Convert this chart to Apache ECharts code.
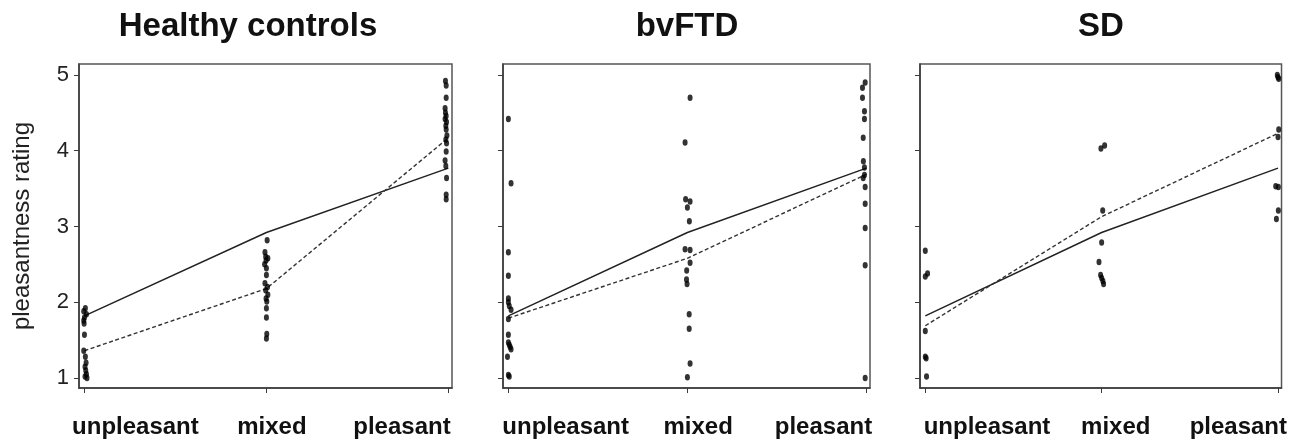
<!DOCTYPE html>
<html>
<head>
<meta charset="utf-8">
<script src="https://cdn.jsdelivr.net/npm/echarts@6/dist/echarts.min.js"></script>
<style>
  html, body { margin: 0; padding: 0; background: #fff; }
  #chart { width: 1290px; height: 446px; }
</style>
</head>
<body>
<div id="chart"></div>
<script>
// ---------- data ----------
const categories = ['unpleasant', 'mixed', 'pleasant'];
const panelTitles = ['Healthy controls', 'bvFTD', 'SD'];
const yTicks = [1, 2, 3, 4, 5];
const yAxisTitle = 'pleasantness rating';

// solid line (same in every panel)
const referenceMean = [1.82, 2.92, 3.77];
// dashed line (group mean)
const hcMean = [1.36, 2.18, 4.17];
const bvMean = [1.79, 2.58, 3.69];
const sdMean = [1.69, 3.13, 4.23];

// individual ratings per condition (value) and small horizontal jitter
const hcUnpleasant = [1.92, 1.88, 1.84, 1.80, 1.76, 1.72, 1.57, 1.36, 1.28, 1.20, 1.15, 1.10, 1.05, 1.02, 1.00];
const hcUnpleasantJit = [0.005, -0.004, 0.011, 0.0, -0.004, -0.002, 0.0, -0.004, 0.005, 0.009, 0.003, 0.007, 0.011, 0.003, 0.014];
const hcMixed = [2.82, 2.66, 2.60, 2.58, 2.55, 2.50, 2.45, 2.36, 2.25, 2.20, 2.16, 2.10, 2.05, 2.01, 1.92, 1.80, 1.58, 1.52];
const hcMixedJit = [0.004, -0.008, -0.004, 0.008, -0.002, -0.01, 0.0, 0.0, -0.008, 0.006, -0.004, 0.008, -0.002, 0.002, 0.0, 0.0, 0.002, 0.0];
const hcPleasant = [4.92, 4.86, 4.70, 4.56, 4.50, 4.46, 4.42, 4.38, 4.33, 4.28, 4.20, 4.15, 4.10, 3.99, 3.87, 3.80, 3.64, 3.42, 3.36];
const hcPleasantJit = [-0.016, -0.012, -0.012, -0.018, -0.016, -0.012, -0.018, -0.01, -0.014, -0.012, -0.008, -0.014, -0.01, -0.012, -0.018, -0.014, -0.01, -0.012, -0.012];

const bvUnpleasant = [4.42, 3.57, 2.66, 2.35, 2.05, 2.00, 1.95, 1.90, 1.78, 1.57, 1.47, 1.44, 1.41, 1.38, 1.28, 1.04, 1.02];
const bvUnpleasantJit = [0.0, 0.015, 0.0, 0.0, 0.0, 0.0, 0.005, 0.015, 0.0, 0.0, 0.0, 0.005, 0.01, 0.015, -0.005, 0.0, 0.005];
const bvMixed = [4.70, 4.11, 3.36, 3.33, 3.25, 3.07, 2.70, 2.69, 2.52, 2.42, 2.30, 2.24, 1.84, 1.65, 1.19, 1.01];
const bvMixedJit = [0.015, -0.013, -0.01, 0.015, 0.0, 0.011, -0.013, 0.015, 0.015, -0.004, -0.005, -0.002, 0.01, 0.01, 0.015, 0.0];
const bvPleasant = [4.90, 4.83, 4.70, 4.52, 4.42, 4.17, 3.86, 3.78, 3.68, 3.64, 3.52, 3.30, 2.98, 2.49, 1.00];
const bvPleasantJit = [-0.007, -0.022, -0.022, -0.011, -0.011, -0.018, -0.017, -0.011, -0.011, -0.018, -0.007, -0.007, -0.007, -0.007, -0.007];

const sdUnpleasant = [2.68, 2.38, 2.34, 1.62, 1.28, 1.26, 1.02];
const sdUnpleasantJit = [0.0, 0.013, 0.0, 0.0, 0.0, 0.005, 0.007];
const sdMixed = [4.07, 4.03, 3.21, 2.79, 2.53, 2.36, 2.32, 2.28, 2.24];
const sdMixedJit = [0.017, -0.004, 0.006, 0.0, -0.015, -0.006, 0.0, 0.007, 0.011];
const sdPleasant = [5.00, 4.97, 4.95, 4.28, 4.18, 3.53, 3.52, 3.21, 3.10];
const sdPleasantJit = [-0.004, 0.0, 0.004, 0.004, 0.0, -0.013, 0.002, 0.002, -0.009];

// ---------- build chart ----------
const groups = [
  { mean: hcMean, vals: [hcUnpleasant, hcMixed, hcPleasant], jit: [hcUnpleasantJit, hcMixedJit, hcPleasantJit] },
  { mean: bvMean, vals: [bvUnpleasant, bvMixed, bvPleasant], jit: [bvUnpleasantJit, bvMixedJit, bvPleasantJit] },
  { mean: sdMean, vals: [sdUnpleasant, sdMixed, sdPleasant], jit: [sdUnpleasantJit, sdMixedJit, sdPleasantJit] }
];

const gridLayout = [
  { left: 79, width: 373, titleX: 248, labelPos: [0.28, 1.03, 1.745] },
  { left: 503, width: 367, titleX: 687, labelPos: [0.32, 1.06, 1.76] },
  { left: 920, width: 367, titleX: 1101, labelPos: [0.35, 1.08, 1.775] }
];

const FONT = '"Liberation Sans", Arial, Helvetica, sans-serif';
const axisColor = '#3a3a3a';

const grids = [], xAxes = [], yAxes = [], series = [], titles = [];

gridLayout.forEach((g, i) => {
  grids.push({
    left: g.left, width: g.width, top: 64, height: 324,
    show: true, borderColor: '#555', borderWidth: 1.5, backgroundColor: 'transparent'
  });
  titles.push({
    text: panelTitles[i], left: g.titleX, top: 10, textAlign: 'center', padding: 0,
    textStyle: { fontFamily: FONT, fontSize: 33, fontWeight: 'bold', color: '#111' }
  });
  xAxes.push({
    type: 'value', gridIndex: i, min: -0.03, max: 2.02,
    axisLine: { show: true, onZero: false, lineStyle: { color: axisColor, width: 1.5 } },
    axisTick: { show: true, inside: false, length: 5, customValues: [0, 1, 2], lineStyle: { color: axisColor } },
    splitLine: { show: false },
    axisLabel: {
      show: true, customValues: g.labelPos, margin: 27,
      formatter: v => categories[Math.round(v)],
      fontFamily: FONT, fontSize: 24, fontWeight: 'bold', color: '#111'
    }
  });
  yAxes.push({
    type: 'value', gridIndex: i, min: 0.868, max: 5.145,
    name: i === 0 ? yAxisTitle : '', nameLocation: 'middle', nameRotate: 90, nameGap: 45,
    nameTextStyle: { fontFamily: FONT, fontSize: 24, color: '#222' },
    axisLine: { show: true, onZero: false, lineStyle: { color: axisColor, width: 1.5 } },
    axisTick: { show: true, inside: false, length: 5, customValues: yTicks, lineStyle: { color: axisColor } },
    splitLine: { show: false },
    axisLabel: {
      show: i === 0, customValues: yTicks, margin: 10,
      fontFamily: FONT, fontSize: 22, color: '#222'
    }
  });
  // scatter points
  const pts = [];
  groups[i].vals.forEach((arr, c) => {
    arr.forEach((v, k) => pts.push([c + groups[i].jit[c][k], v]));
  });
  series.push({
    type: 'scatter', xAxisIndex: i, yAxisIndex: i, data: pts,
    symbol: 'circle', symbolSize: [5, 6.5],
    itemStyle: { color: '#000' }, silent: true, z: 3
  });
  // solid reference line
  series.push({
    type: 'line', xAxisIndex: i, yAxisIndex: i,
    data: referenceMean.map((v, c) => [c, v]),
    symbol: 'none', lineStyle: { color: '#222', width: 1.5, type: 'solid' }, silent: true, z: 2
  });
  // dashed group line
  series.push({
    type: 'line', xAxisIndex: i, yAxisIndex: i,
    data: groups[i].mean.map((v, c) => [c, v]),
    symbol: 'none', lineStyle: { color: '#333', width: 1.4, type: [4, 2.5] }, silent: true, z: 2
  });
});

const chart = echarts.init(document.getElementById('chart'), null, { renderer: 'canvas' });
chart.setOption({
  animation: false,
  backgroundColor: '#fff',
  title: titles,
  grid: grids,
  xAxis: xAxes,
  yAxis: yAxes,
  series: series
});
</script>
</body>
</html>
